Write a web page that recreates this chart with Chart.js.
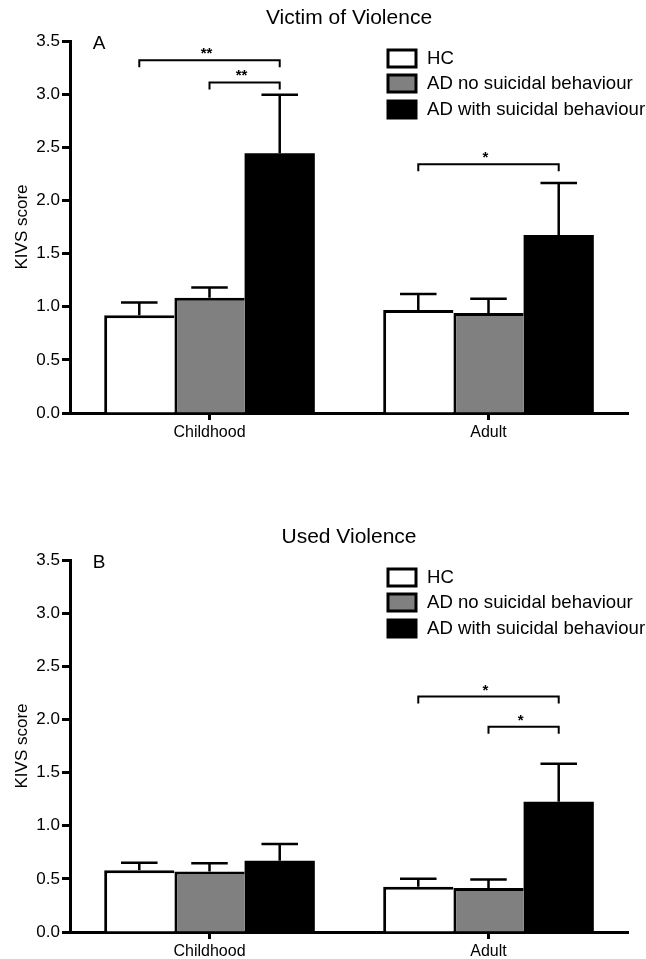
<!DOCTYPE html>
<html><head><meta charset="utf-8">
<script src="https://cdn.jsdelivr.net/npm/chart.js@4.4.1/dist/chart.umd.min.js"></script>
<style>
html,body{margin:0;padding:0;background:#fff;overflow:hidden;width:646px;height:959px;}
.panel{position:absolute;left:0;width:646px;height:440px;}
#pa{top:0}
#pb{top:519px}
</style></head><body>
<div class="panel" id="pa"><canvas id="ca" width="646" height="440"></canvas></div>
<div class="panel" id="pb"><canvas id="cb" width="646" height="440"></canvas></div>
<script>
// ---- data ----
const categories = ['Childhood', 'Adult'];
const seriesNames = ['HC', 'AD no suicidal behaviour', 'AD with suicidal behaviour'];
const seriesColors = ['#ffffff', '#808080', '#000000'];
const yMin = 0, yMax = 3.5, yStep = 0.5;

// Panel A: Victim of Violence (mean, SEM)
const victimHC = [0.92, 0.97];
const victimHCErr = [0.12, 0.15];
const victimADno = [1.085, 0.94];
const victimADnoErr = [0.095, 0.135];
const victimADsuic = [2.445, 1.675];
const victimADsuicErr = [0.55, 0.49];
// significance brackets: category index, series from/to, height, label
const victimBrackets = [
  {cat: 0, from: 0, to: 2, y: 3.32, label: '**'},
  {cat: 0, from: 1, to: 2, y: 3.11, label: '**'},
  {cat: 1, from: 0, to: 2, y: 2.34, label: '*'}
];

// Panel B: Used Violence
const usedHC = [0.58, 0.425];
const usedHCErr = [0.072, 0.076];
const usedADno = [0.57, 0.415];
const usedADnoErr = [0.076, 0.08];
const usedADsuic = [0.67, 1.225];
const usedADsuicErr = [0.157, 0.357];
const usedBrackets = [
  {cat: 1, from: 0, to: 2, y: 2.215, label: '*'},
  {cat: 1, from: 1, to: 2, y: 1.93, label: '*'}
];

const FONT = "'Liberation Sans', Arial, Helvetica, sans-serif";
Chart.defaults.font.family = FONT;
Chart.defaults.color = '#000';

const annotPlugin = {
  id: 'annot',
  afterDatasetsDraw(chart, args, opts) {
    const ctx = chart.ctx, ys = chart.scales.y;
    ctx.save();
    ctx.strokeStyle = '#000';
    ctx.fillStyle = '#000';
    // error bars (upper only)
    opts.errors.forEach((errs, di) => {
      const meta = chart.getDatasetMeta(di);
      const vals = chart.data.datasets[di].data;
      meta.data.forEach((bar, i) => {
        const top = ys.getPixelForValue(vals[i]);
        const et = ys.getPixelForValue(vals[i] + errs[i]);
        const hw = bar.width * 0.26;
        ctx.lineWidth = 2.5;
        ctx.beginPath();
        ctx.moveTo(bar.x, top); ctx.lineTo(bar.x, et);
        ctx.moveTo(bar.x - hw, et); ctx.lineTo(bar.x + hw, et);
        ctx.stroke();
      });
    });
    // brackets
    opts.brackets.forEach(b => {
      const x1 = chart.getDatasetMeta(b.from).data[b.cat].x;
      const x2 = chart.getDatasetMeta(b.to).data[b.cat].x;
      const yy = ys.getPixelForValue(b.y);
      ctx.lineWidth = 2;
      ctx.beginPath();
      ctx.moveTo(x1, yy + 7); ctx.lineTo(x1, yy); ctx.lineTo(x2, yy); ctx.lineTo(x2, yy + 7);
      ctx.stroke();
      ctx.font = 'bold 15px ' + FONT;
      ctx.textAlign = 'center';
      ctx.textBaseline = 'alphabetic';
      ctx.fillText(b.label, (x1 + x2) / 2 - 3, yy - 2);
    });
    ctx.restore();
  },
  afterDraw(chart, args, opts) {
    const ctx = chart.ctx, ca = chart.chartArea;
    ctx.save();
    ctx.fillStyle = '#000';
    // title
    ctx.font = '21px ' + FONT;
    ctx.textAlign = 'center';
    ctx.textBaseline = 'middle';
    ctx.fillText(opts.title, (ca.left + ca.right) / 2, 18);
    // panel letter
    ctx.font = '19px ' + FONT;
    ctx.fillText(opts.letter, 99, 44);
    // legend
    const rows = [58, 83, 109];
    chart.data.datasets.forEach((ds, i) => {
      const cy = rows[i];
      ctx.fillStyle = ds.backgroundColor;
      ctx.fillRect(388, cy - 8, 28, 17);
      ctx.strokeStyle = '#000';
      ctx.lineWidth = 3;
      ctx.strokeRect(388, cy - 8, 28, 17);
      ctx.fillStyle = '#000';
      ctx.font = '18.6px ' + FONT;
      ctx.textAlign = 'left';
      ctx.textBaseline = 'middle';
      ctx.fillText(ds.label, 427, cy + 1);
    });
    ctx.restore();
  }
};

function makeChart(id, vals, errs, brackets, title, letter) {
  return new Chart(document.getElementById(id), {
    type: 'bar',
    data: {
      labels: categories,
      datasets: vals.map((v, i) => ({
        label: seriesNames[i],
        data: v,
        backgroundColor: seriesColors[i],
        borderColor: '#000',
        borderWidth: i === 2 ? 0 : {top: 3, left: 3, right: 0, bottom: 0},
        borderSkipped: 'bottom',
        categoryPercentage: 0.755,
        barPercentage: 1.0
      }))
    },
    options: {
      responsive: false,
      animation: false,
      devicePixelRatio: 1,
      layout: {padding: {top: 41, right: 18, bottom: 0, left: 0}},
      plugins: {
        legend: {display: false},
        title: {display: false},
        tooltip: {enabled: false},
        annot: {errors: errs, brackets: brackets, title: title, letter: letter}
      },
      scales: {
        x: {
          z: 1,
          grid: {offset: false, drawOnChartArea: false, drawTicks: true, tickLength: 7, tickWidth: 3, color: '#000'},
          border: {display: true, width: 3, color: '#000'},
          ticks: {font: {size: 16}, color: '#000', padding: 3},
          afterFit: s => { s.height = 27; }
        },
        y: {
          min: yMin, max: yMax,
          grid: {drawOnChartArea: false, drawTicks: true, tickLength: 8, tickWidth: 3, color: '#000'},
          border: {display: true, width: 3, color: '#000'},
          ticks: {stepSize: yStep, font: {size: 17}, color: '#000', padding: 2,
                  callback: v => Number(v).toFixed(1)},
          title: {display: true, text: 'KIVS score', font: {size: 17}, color: '#000', padding: {top: 12, bottom: 0}},
          afterFit: s => { s.width = 70; }
        }
      }
    },
    plugins: [annotPlugin]
  });
}

makeChart('ca', [victimHC, victimADno, victimADsuic], [victimHCErr, victimADnoErr, victimADsuicErr],
  victimBrackets, 'Victim of Violence', 'A');
makeChart('cb', [usedHC, usedADno, usedADsuic], [usedHCErr, usedADnoErr, usedADsuicErr],
  usedBrackets, 'Used Violence', 'B');
</script>
</body></html>
